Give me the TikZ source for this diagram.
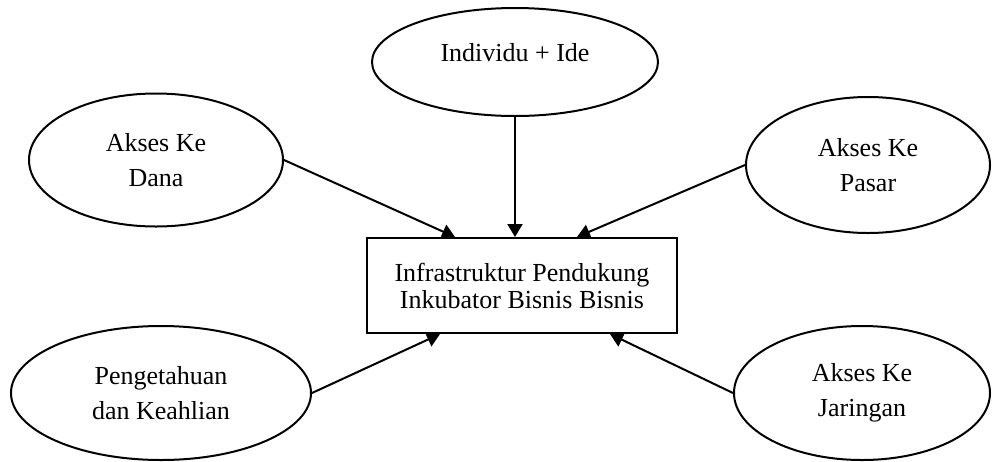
\documentclass[tikz,border=0pt]{standalone}
\usepackage{fontspec}
\setmainfont{Liberation Serif}
\usetikzlibrary{shapes.geometric,arrows.meta}
\newcommand\elnode[5]{\node(#1)[oval,minimum width=#4pt,minimum height=#5pt] at #2 {#3};}

\begin{document}
\begin{tikzpicture}[x=1pt,y=-1pt,line width=2pt,
    oval/.style={ellipse,draw,inner sep=0pt,align=center,font=\fontsize{26}{35}\selectfont},
    box/.style={rectangle,draw,align=center,minimum width=310pt,minimum height=95pt,font=\fontsize{26}{27}\selectfont},
    arr/.style={-{Triangle[length=13pt,width=15pt]}}]
    \useasboundingbox (0,0) rectangle (992,461);
    \node(infra)[box] at (522,285.5) {Infrastruktur Pendukung\\Inkubator Bisnis Bisnis};
    \elnode{ide}{(515,62)}{\raisebox{9pt}[\height][\depth]{Individu + Ide}}{286}{108}
    \elnode{dana}{(156,160)}{Akses Ke\\Dana}{254}{133}
    \elnode{pasar}{(868,165)}{Akses Ke\\Pasar}{244}{136}
    \elnode{tahu}{(161,393)}{Pengetahuan\\dan Keahlian}{300}{134}
    \elnode{jaring}{(862,393)}{Akses Ke\\Jaringan}{256}{134}
    \draw[arr] (ide.south) -- (ide.south |- infra.north);
    \draw[arr] (dana.east) -- ([xshift=-67pt]infra.north);
    \draw[arr] (pasar.west) -- ([xshift=55pt]infra.north);
    \draw[arr] (tahu.east) -- ([xshift=-82pt]infra.south);
    \draw[arr] (jaring.west) -- ([xshift=88pt]infra.south);
\end{tikzpicture}
\end{document}
